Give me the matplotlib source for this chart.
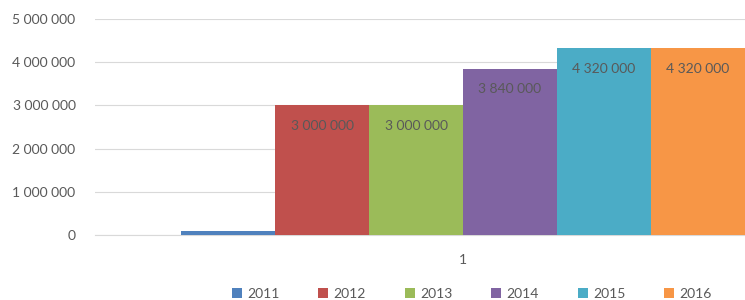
import matplotlib
matplotlib.use("Agg")
import matplotlib.pyplot as plt
from matplotlib.patches import Patch

years = ["2011", "2012", "2013", "2014", "2015", "2016"]
values = [90000, 3000000, 3000000, 3840000, 4320000, 4320000]
show_label = [False, True, True, True, True, True]
colors = ["#4F81BD", "#C0504D", "#9BBB59", "#8064A2", "#4BACC6", "#F79646"]
yticks = [0, 1000000, 2000000, 3000000, 4000000, 5000000]
category = "1"

def fmt(v):
    return f"{v:,.0f}".replace(",", " ")

plt.rcParams['font.family'] = ['Lato', 'DejaVu Sans']

fig = plt.figure(figsize=(7.45, 3.0), dpi=100)
ax = fig.add_axes([95/745, 1-235/300, 736/745, 216/300])

w = 0.766 / 6
n = len(years)
for i, (y, v, c) in enumerate(zip(years, values, colors)):
    x = (i - (n - 1) / 2) * w
    ax.bar(x, v, width=w, color=c, label=y, zorder=3, linewidth=0)
    if show_label[i]:
        ax.annotate(fmt(v), xy=(x, v), xytext=(0, -14.5), textcoords='offset points',
                    ha='center', va='center', fontsize=10, color='#595959', zorder=4)

ax.set_xlim(-0.5, 0.5)
ax.set_ylim(0, 5000000)
ax.set_yticks(yticks)
ax.set_yticklabels([fmt(t) for t in yticks], fontsize=10, color='#595959')
ax.set_xticks([0])
ax.set_xticklabels([category], fontsize=10, color='#595959')
ax.tick_params(axis='both', length=0)
ax.tick_params(axis='y', pad=14)
ax.tick_params(axis='x', pad=14)
ax.grid(axis='y', color='#d9d9d9', linewidth=0.8, zorder=0)
for s in ['top', 'right', 'left']:
    ax.spines[s].set_visible(False)
ax.spines['bottom'].set_color('#d9d9d9')
ax.spines['bottom'].set_linewidth(0.8)

handles = [Patch(facecolor=c, label=y) for y, c in zip(years, colors)]
fig.legend(handles=handles, loc='center', bbox_to_anchor=(472/745, 1-294/300), ncol=6,
           frameon=False, fontsize=10, handlelength=0.7, handleheight=0.7,
           handletextpad=0.4, columnspacing=2.8, labelcolor='#595959')

fig.savefig("out.png", dpi=100)
